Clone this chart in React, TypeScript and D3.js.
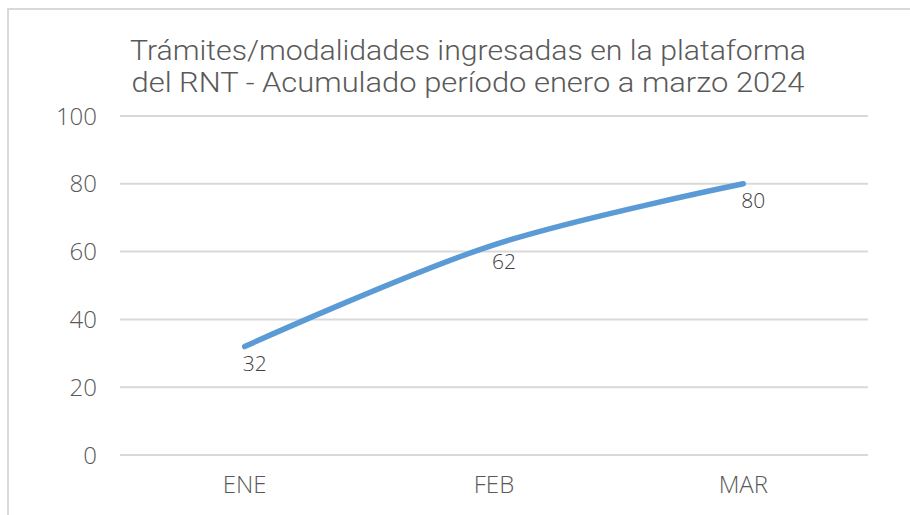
import React from "react";
import * as d3 from "d3";

const categories = ["ENE", "FEB", "MAR"];
const values = [32, 62, 80];
const yTicks = [0, 20, 40, 60, 80, 100];
const titleLines = [
  "Trámites/modalidades ingresadas en la plataforma",
  "del RNT - Acumulado período enero a marzo 2024",
];

export default function App() {
  const W = 910, H = 515;
  const left = 120, right = 868, top = 116, bottom = 455;
  const x = d3.scaleBand<string>().domain(categories).range([left, right]);
  const y = d3.scaleLinear().domain([0, 100]).range([bottom, top]);
  const pts: [number, number][] = categories.map((c, i) => [x(c)! + x.bandwidth() / 2, y(values[i])]);
  const line = d3.line().curve(d3.curveCatmullRom.alpha(0.5))(pts) || "";
  const font = "'Open Sans', sans-serif";
  return (
    <svg width={W} height={H} style={{ position: "absolute", left: 0, top: 0 }}>
      <rect x={0} y={0} width={W} height={H} fill="#fff" />
      <rect x={8} y={9} width={W + 20} height={H + 20} fill="#fff" stroke="#d9d9d9" strokeWidth={2} />
      {titleLines.map((t, i) => (
        <text key={i} x={468} y={60 + i * 32} textAnchor="middle" fontFamily="Roboto, sans-serif" fontWeight={300} fontSize={27} fill="#595959" textLength={i === 0 ? 676 : 673} lengthAdjust="spacingAndGlyphs">{t}</text>
      ))}
      {yTicks.map((t) => (
        <g key={t}>
          <line x1={left} x2={right} y1={y(t)} y2={y(t)} stroke="#d9d9d9" strokeWidth={2} />
          <text x={97} y={y(t)} dy="0.36em" textAnchor="end" fontFamily={font} fontWeight={300} fontSize={24} fill="#595959">{t}</text>
        </g>
      ))}
      {categories.map((c) => (
        <text key={c} x={x(c)! + x.bandwidth() / 2} y={484} dy="0.36em" textAnchor="middle" fontFamily={font} fontWeight={300} fontSize={24} fill="#595959">{c}</text>
      ))}
      <path d={line} fill="none" stroke="#5B9BD5" strokeWidth={5.5} strokeLinecap="round" />
      {pts.map((p, i) => (
        <text key={i} x={p[0] + 10} y={p[1] + 17} dy="0.36em" textAnchor="middle" fontFamily={font} fontWeight={300} fontSize={21} fill="#404040">{values[i]}</text>
      ))}
    </svg>
  );
}
